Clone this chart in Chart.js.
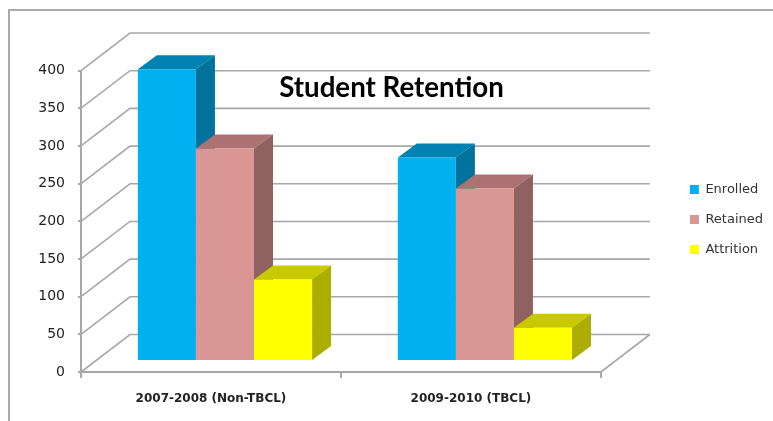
<!DOCTYPE html>
<html>
<head>
<meta charset="utf-8">
<script src="https://cdn.jsdelivr.net/npm/chart.js@4"></script>
<style>
    html,body{margin:0;padding:0;background:#fff;overflow:hidden;}
    #frame{position:absolute;left:8px;top:9px;width:770px;height:420px;border-left:2px solid #ababab;border-top:2px solid #ababab;}
    #chart{position:absolute;left:0;top:0;filter:blur(0.4px);}
</style>
</head>
<body>
<div id="frame"></div>
<canvas id="chart" width="773" height="421"></canvas>
<script>
// Data
const categories = ['2007-2008 (Non-TBCL)','2009-2010 (TBCL)'];
const enrolled = [387,270];
const retained = [282,229];
const attrition = [108,44];
const yTicks = [0,50,100,150,200,250,300,350,400];

// Colours: front, top, side
const seriesColors = [
    ['#00B0F0','#0082B2','#00729C'],
    ['#D99694','#AD7372','#8F6261'],
    ['#FFFF00','#C9C900','#ADAD00']
];

const lineColor = '#a8a8a8';
const wallDx = 49, wallDy = 37.5;   // floor depth
const barDx = 19, barDy = 14;       // bar depth
const offsetX = 14, offsetY = 11;   // bars sit inside the floor

// Back wall, floor and the 3D faces of the bars
const fake3d = {
    id:'fake3d',
    beforeDatasetsDraw(chart){
        const ctx = chart.ctx, y = chart.scales.y, a = chart.chartArea;
        ctx.save();
        ctx.strokeStyle = lineColor;
        ctx.lineWidth = 1.6;
        yTicks.forEach(t=>{
            const py = y.getPixelForValue(t);
            ctx.beginPath();
            ctx.moveTo(a.left,py);
            ctx.lineTo(a.left+wallDx,py-wallDy);
            ctx.lineTo(a.right+wallDx,py-wallDy);
            ctx.stroke();
        });
        ctx.beginPath();
        ctx.moveTo(a.right,a.bottom);
        ctx.lineTo(a.right+wallDx,a.bottom-wallDy);
        ctx.stroke();

        // tops and sides first, the library then paints the fronts over them
        ctx.translate(offsetX,-offsetY);
        chart.data.datasets.forEach((ds,i)=>{
            chart.getDatasetMeta(i).data.forEach(bar=>{
                const p = bar.getProps(['x','y','base','width'],true);
                const l = p.x-p.width/2, r = p.x+p.width/2;
                ctx.fillStyle = seriesColors[i][1];
                ctx.beginPath();
                ctx.moveTo(l,p.y);
                ctx.lineTo(l+barDx,p.y-barDy);
                ctx.lineTo(r+barDx,p.y-barDy);
                ctx.lineTo(r,p.y);
                ctx.closePath();
                ctx.fill();
                ctx.fillStyle = seriesColors[i][2];
                ctx.beginPath();
                ctx.moveTo(r,p.y);
                ctx.lineTo(r+barDx,p.y-barDy);
                ctx.lineTo(r+barDx,p.base-barDy);
                ctx.lineTo(r,p.base);
                ctx.closePath();
                ctx.fill();
            });
        });
        ctx.restore();

        ctx.save();
        ctx.translate(offsetX,-offsetY);
    },
    afterDatasetsDraw(chart){
        chart.ctx.restore();
    }
};

new Chart(document.getElementById('chart'),{
    type:'bar',
    data:{
        labels:categories,
        datasets:[
            {label:'Enrolled',data:enrolled,backgroundColor:seriesColors[0][0]},
            {label:'Retained',data:retained,backgroundColor:seriesColors[1][0]},
            {label:'Attrition',data:attrition,backgroundColor:seriesColors[2][0]}
        ]
    },
    options:{
        responsive:false,
        animation:false,
        categoryPercentage:0.67,
        barPercentage:1,
        layout:{padding:{left:10,right:0,top:18,bottom:0}},
        plugins:{
            tooltip:{enabled:false},
            title:{
                display:true,
                text:'Student Retention',
                color:'#000',
                font:{family:'Lato',size:27.7,weight:'bold'},
                padding:{top:53,bottom:-33.7}
            },
            legend:{
                position:'right',
                labels:{
                    boxWidth:9,boxHeight:9,padding:17,
                    color:'#333',
                    font:{family:'DejaVu Sans',size:13}
                }
            }
        },
        scales:{
            x:{
                grid:{drawOnChartArea:false,tickLength:6,color:lineColor,lineWidth:2},
                border:{color:lineColor,width:2},
                ticks:{color:'#222',padding:14,maxRotation:0,font:{family:'DejaVu Sans',size:12,weight:'bold'}},
                afterFit(s){s.height=49;}
            },
            y:{
                min:0,max:400,
                grid:{drawOnChartArea:false,tickLength:3,color:lineColor,lineWidth:2},
                border:{color:lineColor,width:2},
                ticks:{stepSize:50,padding:13,color:'#222',font:{family:'DejaVu Sans',size:14}},
                afterFit(s){s.width=71;}
            },
            // empty space between the plot and the legend
            gap:{
                position:'right',
                display:true,
                grid:{display:false},
                border:{display:false},
                ticks:{display:false},
                afterFit(s){s.width=72;}
            }
        }
    },
    plugins:[fake3d]
});
</script>
</body>
</html>
